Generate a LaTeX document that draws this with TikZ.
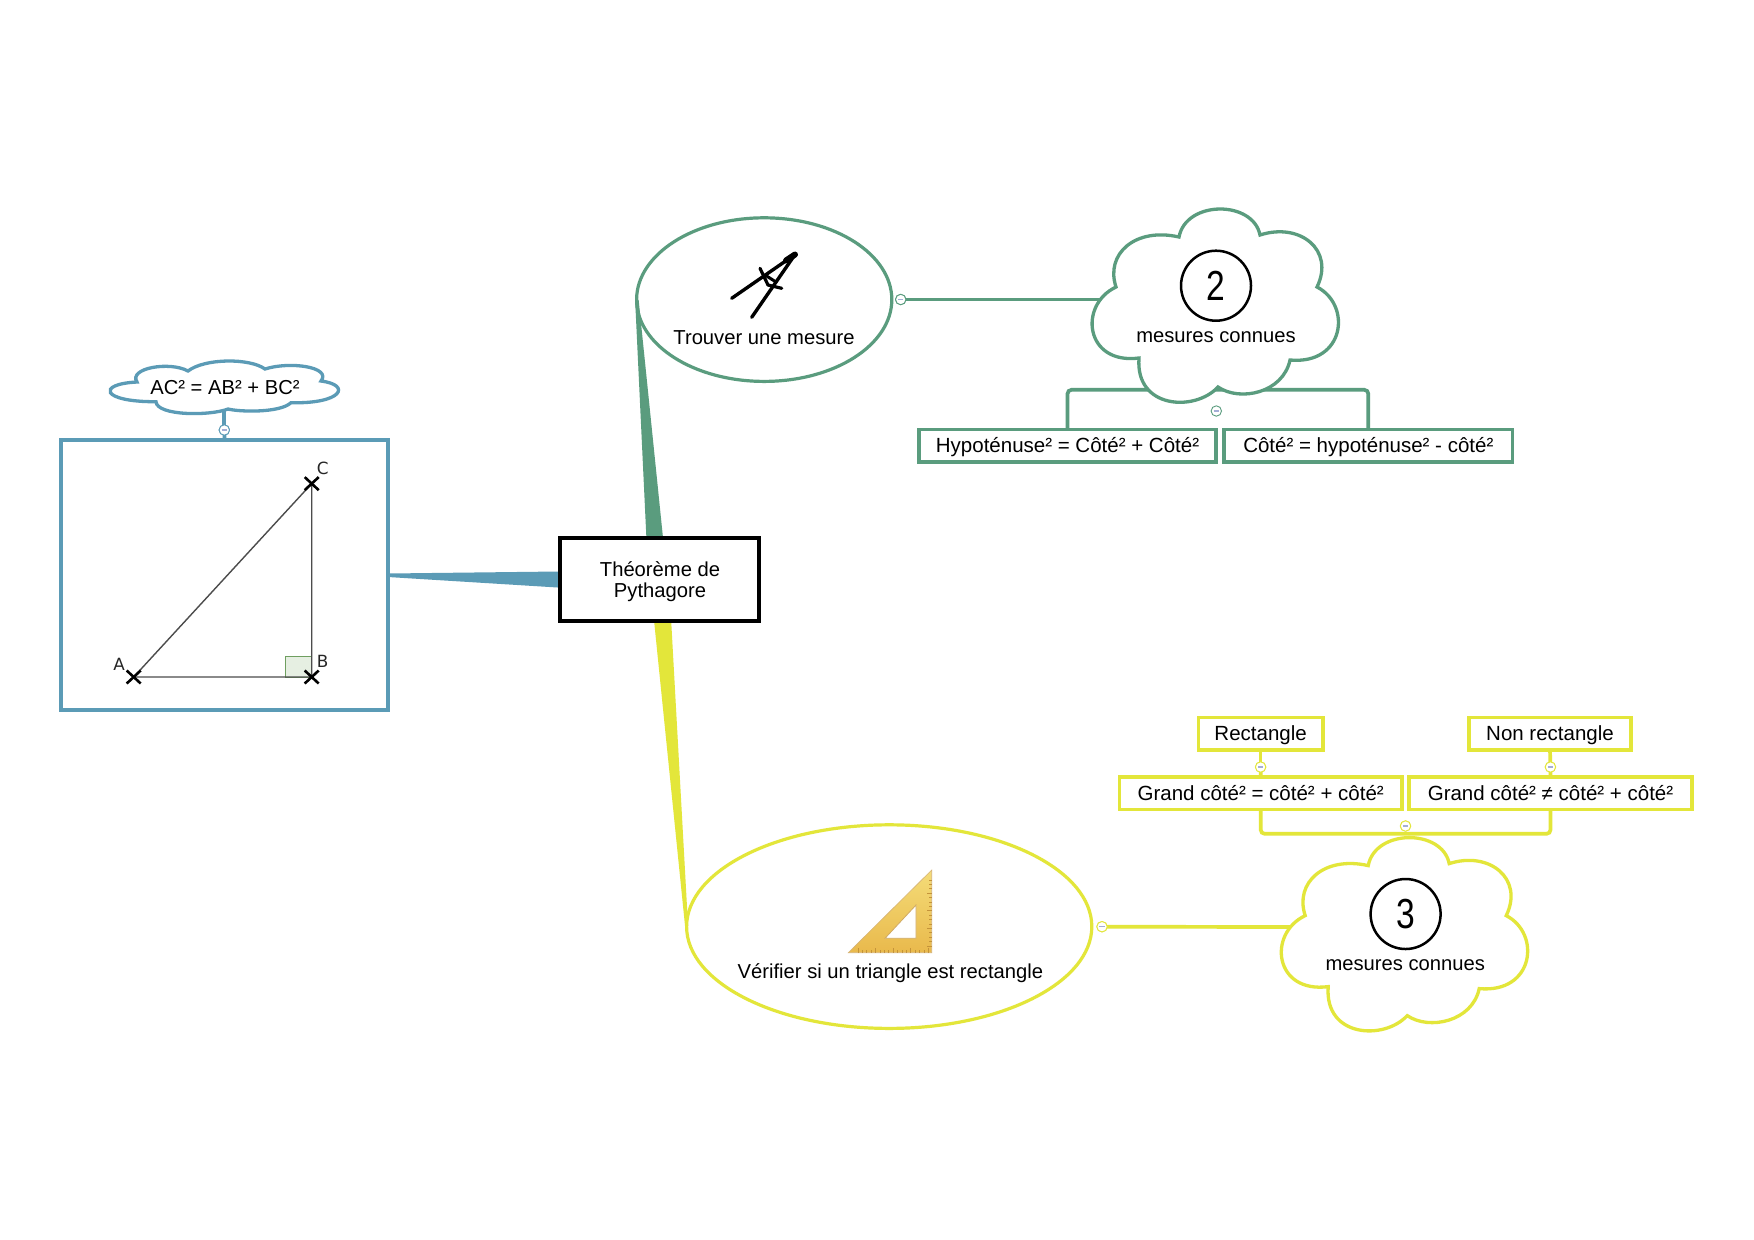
\documentclass[tikz,border=0pt]{standalone}
\usepackage{fontspec}
\setmainfont{Liberation Sans}
\newfontfamily\labfont{DejaVu Sans}
\usetikzlibrary{shapes.geometric,calc}
\definecolor{mgreen}{HTML}{5A9C7E}
\definecolor{mblue}{HTML}{5B9BB6}
\definecolor{myellow}{HTML}{E3E63A}
\definecolor{knobminus}{HTML}{A4AED6}
\definecolor{sqfill}{HTML}{E6EFE2}
\definecolor{sqline}{HTML}{6F9F60}
\definecolor{tick}{HTML}{C4933A}
\definecolor{sqtop}{HTML}{F4DC78}
\definecolor{sqbot}{HTML}{E9B94C}
\newcommand{\bigcloudpath}{(1179,237) .. controls (1186,200) and (1253,200) .. (1260,235)
 .. controls (1300,222) and (1335,250) .. (1317,287)
 .. controls (1352,305) and (1345,365) .. (1290,360)
 .. controls (1283,393) and (1240,402) .. (1218,387)
 .. controls (1195,412) and (1135,409) .. (1139,358)
 .. controls (1085,365) and (1078,305) .. (1116,287)
 .. controls (1105,254) and (1135,227) .. (1179,237) -- cycle}
\tikzset{
 x=0.5pt,y=-0.5pt,
 lab/.style={inner sep=0pt,outer sep=0pt,font=\fontsize{10.1}{10.6}\selectfont,align=center,yshift=-0.9pt},
 pt/.style={inner sep=0pt,outer sep=0pt,font=\labfont\fontsize{8.4}{9}\selectfont,text=black!85},
 boxn/.style={draw=#1,line width=1.85pt,fill=white,rectangle,inner sep=0pt,outer sep=0pt,font=\fontsize{10.25}{10.6}\selectfont,align=center,text height=9pt,text depth=2pt},
 blankbox/.style={draw=#1,line width=2pt,fill=white,rectangle,inner sep=0pt,outer sep=0pt},
 ell/.style={draw=#1,line width=1.6pt,fill=white,ellipse,inner sep=0pt,outer sep=0pt},
 knob/.style={circle,draw=#1,line width=0.45pt,fill=white,minimum size=5.2pt,inner sep=0pt,outer sep=0pt,
   path picture={\draw[knobminus,line width=0.6pt] ($(path picture bounding box.center)+(-1.3pt,0pt)$) -- ($(path picture bounding box.center)+(1.3pt,0pt)$);}},
 conn/.style={draw=#1,line width=1.85pt},
 cloudline/.style={draw=#1,line width=1.65pt,fill=white,line join=miter},
 numc/.style={circle,draw=black,line width=1.25pt,minimum size=35pt,inner sep=0pt,outer sep=0pt,font=\fontsize{21}{21}\selectfont},
 crossm/.style={draw=black,line width=1.3pt},
 tri/.style={draw=black!70,line width=0.7pt},
}
\begin{document}
\begin{tikzpicture}
\useasboundingbox (0,0) rectangle (1754,1239);
\fill[white] (0,0) rectangle (1754,1239);

% main boxes
\node[blankbox=mblue,minimum width=163.5pt,minimum height=134.8pt] (tribox) at (224.5,575) {};
\node[blankbox=black,minimum width=99.5pt,minimum height=41.6pt] (central) at (659.3,579.5) {};
\node[lab] (centraltext) at (660,579.5) {Théorème de\\Pythagore};
\node[ell=mgreen,minimum width=127.6pt,minimum height=81.8pt] (ellgreen) at (764.2,299.6) {};
\node[ell=myellow,minimum width=202.6pt,minimum height=101.8pt] (ellyellow) at (889.2,926.6) {};

% wedges
\fill[mblue] ($(tribox.east)+(0,-1.5)$) -- ($(central.west)+(-2,-8)$) -- ($(central.west)+(-2,8)$) -- ($(tribox.east)+(0,2)$) -- cycle;
\fill[mgreen] ($(ellgreen.west)+(-1.5,0)$) -- ($(ellgreen.west)+(2,0)$) -- ($(central.north)+(3.5,-2)$) -- ($(central.north)+(-13,-2)$) -- cycle;
\fill[myellow] ($(ellyellow.west)+(-1.5,0)$) -- ($(ellyellow.west)+(1.5,0)$) -- ($(central.south)+(12,2)$) -- ($(central.south)+(-5,2)$) -- cycle;

% named connector ends
\coordinate (cloudgreenin) at (1105,299.5);
\coordinate (cloudyellowin) at (1294,927);
\coordinate (brackgreen) at (1216,389.8);
\coordinate (brackyellow) at (1405.5,833.8);
\coordinate (smallcloudout) at (224.3,410);

% child boxes
\node[boxn=mgreen,minimum width=148.8pt,minimum height=16.15pt] (hyp) at (1067.5,445.6) {Hypoténuse² = Côté² + Côté²};
\node[boxn=mgreen,minimum width=144.25pt,minimum height=16.15pt] (cote) at (1368.3,445.6) {Côté² = hypoténuse² - côté²};
\node[boxn=myellow,minimum width=62.15pt,minimum height=16.15pt] (rect) at (1260.6,733.6) {Rectangle};
\node[boxn=myellow,minimum width=80.7pt,minimum height=16.15pt] (nonrect) at (1550,733.6) {Non rectangle};
\node[boxn=myellow,minimum width=141.25pt,minimum height=16.15pt] (grandeq) at (1260.7,793.2) {Grand côté² = côté² + côté²};
\node[boxn=myellow,minimum width=141.25pt,minimum height=16.15pt] (grandne) at (1550.5,793.2) {Grand côté² ≠ côté² + côté²};

% knobs
\node[knob=mblue] (knobblue) at (224.3,430) {};
\node[knob=mgreen] (knobgreen) at (900.7,299.5) {};
\node[knob=mgreen] (knobgreenb) at (1216.3,411) {};
\node[knob=myellow] (knobyellow) at (1102,926.7) {};
\node[knob=myellow] (knobyellowb) at (1405.5,826) {};
\node[knob=myellow] (knobrect) at (1260.6,767) {};
\node[knob=myellow] (knobnon) at (1550.4,767) {};

% connectors
\draw[conn=mblue] (smallcloudout) -- (knobblue);
\draw[conn=mblue] (knobblue) -- (tribox.north);
\draw[conn=mgreen] (knobgreen.east) -- (cloudgreenin);
\draw[conn=myellow] (knobyellow.east) -- (cloudyellowin);
\draw[conn=mgreen,rounded corners=2pt] (hyp.north) |- (brackgreen) -| (cote.north);
\draw[conn=myellow,rounded corners=2pt] (grandeq.south) |- (brackyellow) -| (grandne.south);
\draw[conn=myellow] (rect.south) -- (knobrect);
\draw[conn=myellow] (knobrect) -- (grandeq.north);
\draw[conn=myellow] (nonrect.south) -- (knobnon);
\draw[conn=myellow] (knobnon) -- (grandne.north);

% knobs again on top of their lines
\node[knob=mblue] at (knobblue) {};
\node[knob=myellow] at (knobrect) {};
\node[knob=myellow] at (knobnon) {};
\node[knob=myellow] at (knobyellowb) {};
\node[knob=mgreen] at (knobgreen) {};
\node[knob=myellow] at (knobyellow) {};

% clouds
\draw[cloudline=mgreen] \bigcloudpath;
\draw[cloudline=myellow,shift={(189.2,628.6)}] \bigcloudpath;
\draw[cloudline=mblue] (156,401.7)
 .. controls (101,402) and (96,384) .. (137,382)
 .. controls (128,368) and (170,361) .. (188,371)
 .. controls (205,358) and (250,358) .. (265,369)
 .. controls (290,361) and (332,367) .. (321,381)
 .. controls (352,385) and (342,404) .. (291,402.7)
 .. controls (280,413) and (240,412) .. (228,409)
 .. controls (210,416) and (157,416) .. (156,401.7) -- cycle;

% cloud texts
\node[lab] (smallcloudtext) at (225,386) {AC² = AB² + BC²};
\node[numc] (numtwo) at (1216,285.7) {\scalebox{.8}[1]{2}};
\node[lab] (cloudtwotext) at (1216,335.2) {mesures connues};
\node[numc] (numthree) at (1405.6,914) {\scalebox{.8}[1]{3}};
\node[lab] (cloudthreetext) at (1405.2,963) {mesures connues};
\node[lab] (ellgreentext) at (764,336.2) {Trouver une mesure};
\node[lab] (ellyellowtext) at (890.4,971) {Vérifier si un triangle est rectangle};

% triangle
\coordinate (ptA) at (133.7,677);
\coordinate (ptB) at (311.7,677);
\coordinate (ptC) at (311.7,483.6);
\draw[draw=sqline,fill=sqfill,line width=0.5pt] (285.7,656.3) rectangle (311.7,677);
\draw[tri] (ptA) -- (ptB) -- (ptC) -- cycle;
\foreach \p in {ptA,ptB,ptC}{
  \draw[crossm] ($(\p)+(-7,-6.5)$) -- ($(\p)+(7,6.5)$);
  \draw[crossm] ($(\p)+(-7,6.5)$) -- ($(\p)+(7,-6.5)$);
}
\node[pt] (labA) at (119,664) {A};
\node[pt] (labB) at (322.7,661.7) {B};
\node[pt] (labC) at (322.7,468) {C};

% compass icon
\draw[black,line width=1.7pt,line cap=round] (795,254.5) -- (731.7,298.3);
\draw[black,line width=1.7pt,line cap=round] (795,254.5) -- (751.7,317.3);
\draw[black,line width=1.6pt,line cap=round,line join=round] (760,268.3) -- (768,285) -- (781.7,288.3);
\draw[black,line width=1.5pt,line cap=round] (765,275) -- (776,282);
\draw[black,line width=3pt,line cap=round] (795,254.5) -- (786,260.5);

% set square icon
\shade[top color=sqtop,bottom color=sqbot,draw=tick!70,line width=0.3pt] (931.7,870) -- (848.3,952.7) -- (931.7,952.7) -- cycle;
\draw[fill=white,draw=tick!80,line width=0.4pt] (916,905) -- (885,938.3) -- (916,938.3) -- cycle;
\foreach \k in {0,...,16}{
  \pgfmathsetmacro{\xx}{858+\k*4.4}
  \pgfmathsetmacro{\yy}{946-\k*4.4}
  \pgfmathsetmacro{\ll}{ifthenelse(mod(\k,4)==0,5,2.5)}
  \draw[tick,line width=0.35pt] (\xx,952.7) -- ++(0,-\ll);
  \ifdim\yy pt>877pt \draw[tick,line width=0.35pt] (931.7,\yy) -- ++(-\ll,0);\fi
}
\end{tikzpicture}
\end{document}
